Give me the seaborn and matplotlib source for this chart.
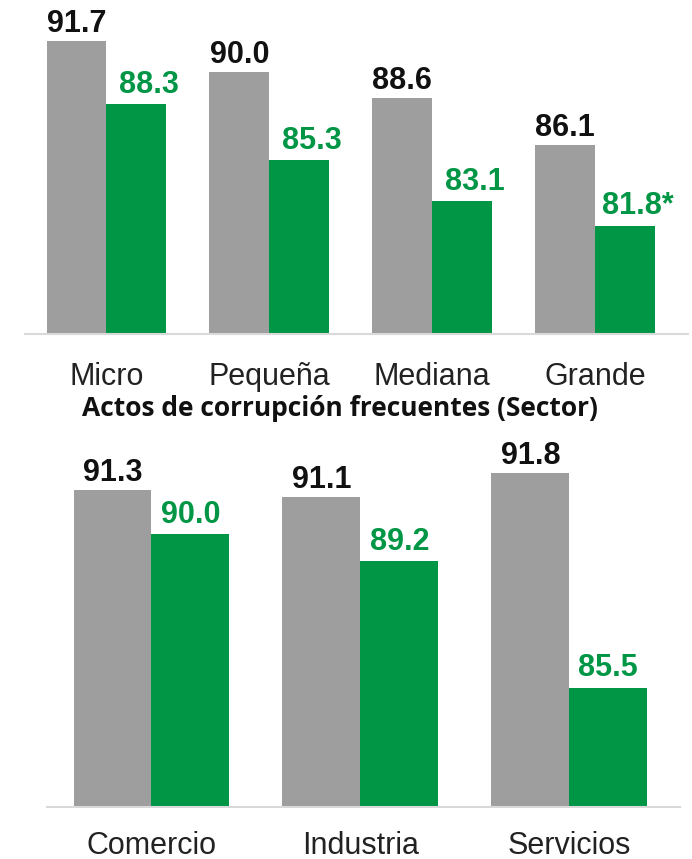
import matplotlib
matplotlib.use("Agg")
import matplotlib.pyplot as plt
import seaborn as sns
import pandas as pd

size_cats = ["Micro", "Pequeña", "Mediana", "Grande"]
size_gray = [91.7, 90.0, 88.6, 86.1]
size_green = [88.3, 85.3, 83.1, 81.8]
size_green_labels = ["88.3", "85.3", "83.1", "81.8*"]

sector_title = "Actos de corrupción frecuentes (Sector)"
sector_cats = ["Comercio", "Industria", "Servicios"]
sector_gray = [91.3, 91.1, 91.8]
sector_green = [90.0, 89.2, 85.5]

series_names = ["A", "B"]
GRAY = "#9E9E9E"
GREEN = "#009645"

sns.set_theme(style="white")
plt.rcParams["font.family"] = ["Liberation Sans", "DejaVu Sans"]

W, H = 692, 859
fig = plt.figure(figsize=(W / 100, H / 100), dpi=100)

def px_axes(left, top, right, bottom):
    return fig.add_axes([left / W, 1 - bottom / H, (right - left) / W, (bottom - top) / H])

def make_df(cats, g1, g2):
    return pd.DataFrame({
        "cat": cats * 2,
        "val": list(g1) + list(g2),
        "ser": [series_names[0]] * len(cats) + [series_names[1]] * len(cats),
    })

def draw(ax, cats, g1, g2, lab2, width, ylim, xlim, pad, green_dx):
    df = make_df(cats, g1, g2)
    sns.barplot(data=df, x="cat", y="val", hue="ser", order=cats,
                hue_order=series_names, palette=[GRAY, GREEN], width=width,
                dodge=True, legend=False, ax=ax, saturation=1, errorbar=None,
                linewidth=0, edgecolor="none")
    ax.set_ylim(*ylim)
    ax.set_xlim(*xlim)
    cont_gray, cont_green = ax.containers[0], ax.containers[1]
    for bar, v in zip(cont_gray, g1):
        ax.annotate(f"{v:.1f}", (bar.get_x() + bar.get_width() / 2, bar.get_height()),
                    xytext=(0, 6.5), textcoords="offset points",
                    ha="center", va="baseline", fontsize=22,
                    fontweight="bold", color="#111111")
    for bar, t in zip(cont_green, lab2):
        ax.annotate(t, (bar.get_x() + bar.get_width() / 2, bar.get_height()),
                    xytext=(green_dx, 8), textcoords="offset points",
                    ha="center", va="baseline", fontsize=22,
                    fontweight="bold", color=GREEN)
    ax.set_xlabel("")
    ax.set_ylabel("")
    ax.set_yticks([])
    for s in ["top", "right", "left"]:
        ax.spines[s].set_visible(False)
    ax.spines["bottom"].set_color("#D9D9D9")
    ax.spines["bottom"].set_linewidth(1.5)
    ax.tick_params(axis="x", length=0, pad=pad, labelsize=22, labelcolor="#222222")
    ax.set_facecolor("none")

ax1 = px_axes(25, 0, 688, 334)
draw(ax1, size_cats, size_gray, size_green, size_green_labels, 0.735,
     (76.0, 93.87), (-0.5, 3.57), 20, 9)

ax2 = px_axes(47, 430, 680, 807)
draw(ax2, sector_cats, sector_gray, sector_green,
     [f"{v:.1f}" for v in sector_green], 0.746, (82.0, 93.05), (-0.5, 2.53), 17, 0)

fig.text(340 / W, 1 - 408 / H, sector_title, ha="center", va="center",
         fontsize=19, fontweight="bold", family=["Open Sans", "DejaVu Sans"],
         color="#111111")

fig.savefig("out.png", dpi=100)
